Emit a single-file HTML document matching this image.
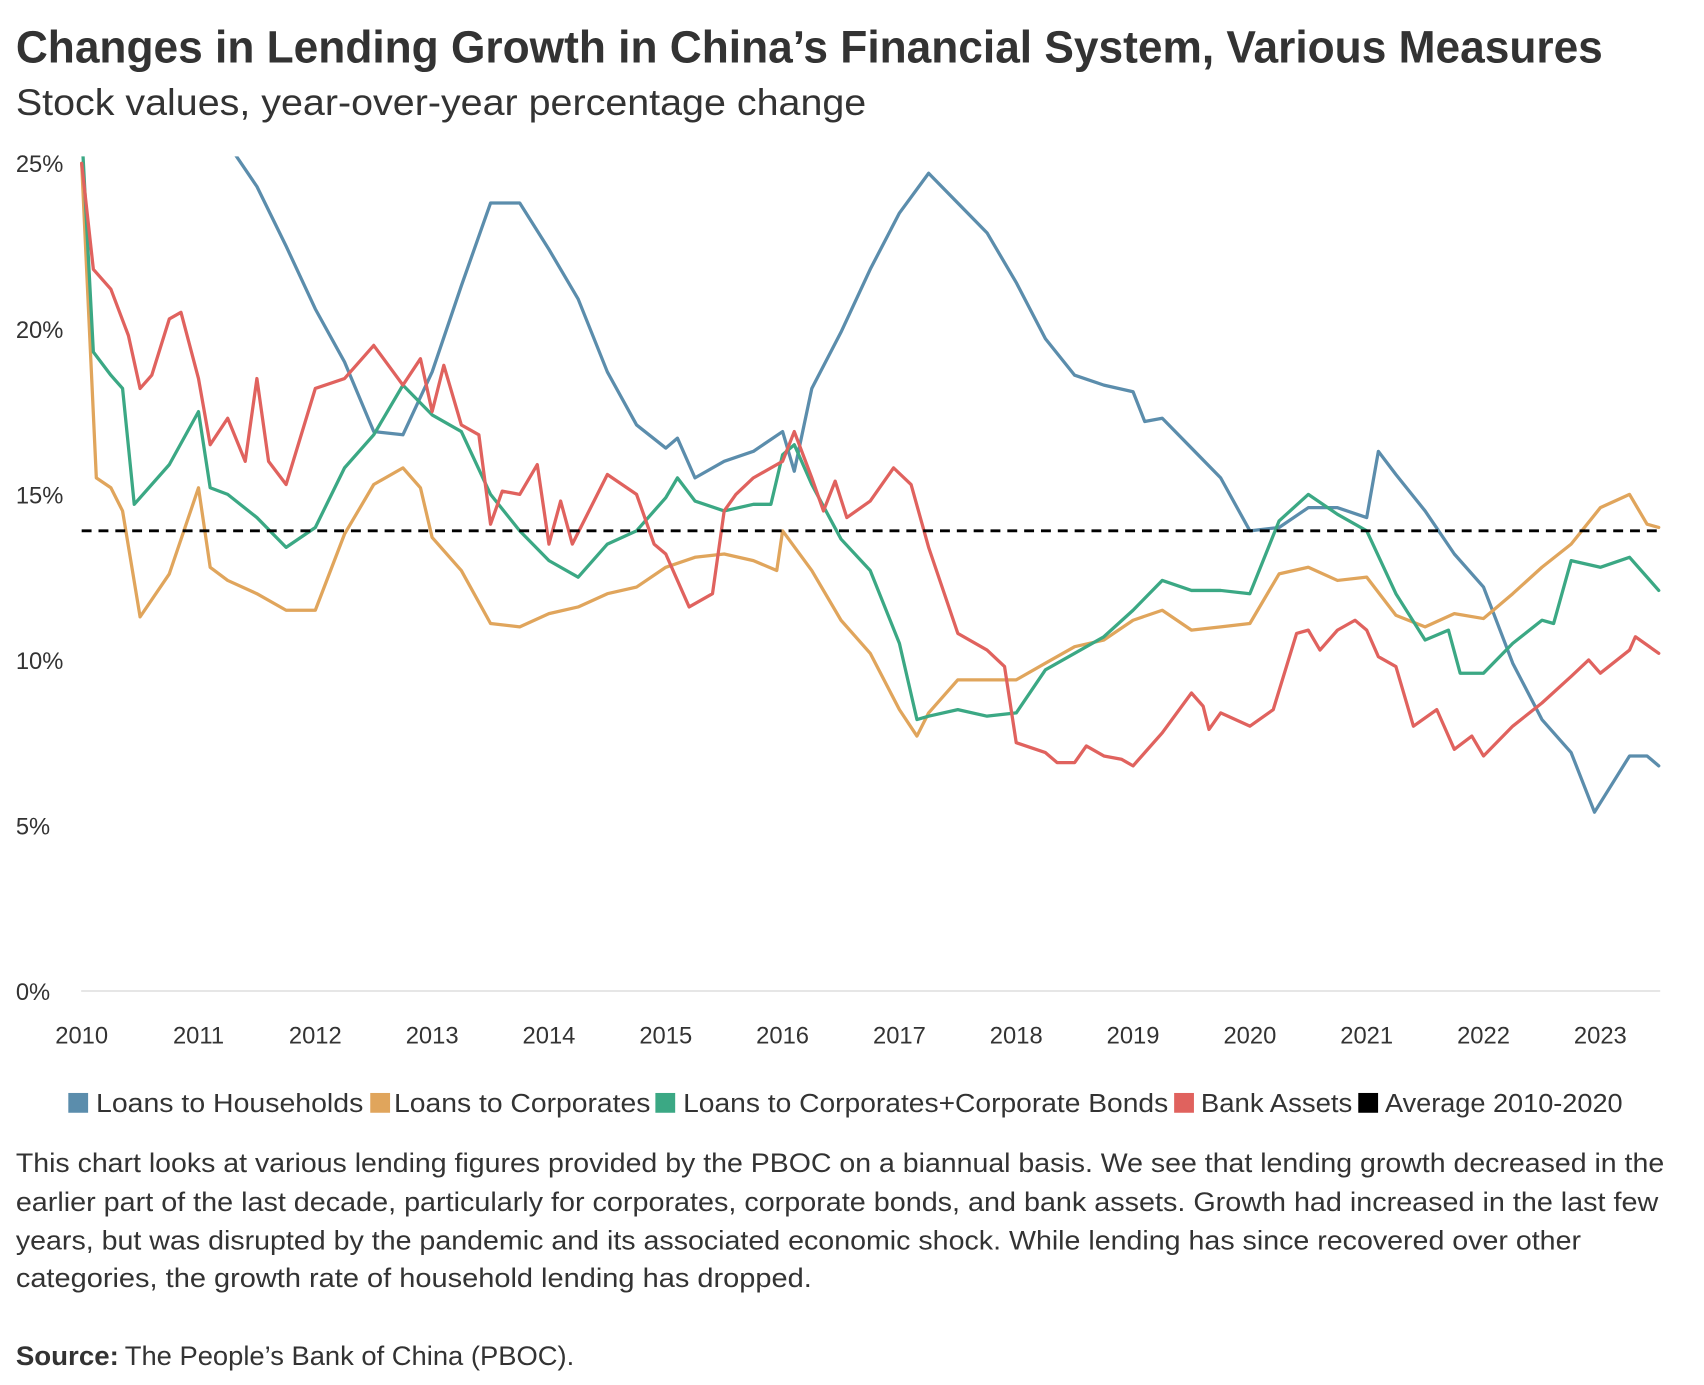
<!DOCTYPE html>
<html><head><meta charset="utf-8"><style>
html,body{margin:0;padding:0;background:#fff;}
svg{display:block;font-family:"Liberation Sans",sans-serif;}
</style></head><body>
<svg id="chart" width="1704" height="1385" viewBox="0 0 1704 1385" xmlns="http://www.w3.org/2000/svg">
<g transform="scale(0.99)">
<text x="16" y="63" font-size="46" font-weight="bold" fill="#333" textLength="1603" lengthAdjust="spacingAndGlyphs">Changes in Lending Growth in China’s Financial System, Various Measures</text>
<text x="16" y="116" font-size="37" fill="#333" textLength="859" lengthAdjust="spacingAndGlyphs">Stock values, year-over-year percentage change</text>
<defs><clipPath id="pc"><rect x="80" y="158" width="1600" height="850"/></clipPath></defs>
<g id="grid"></g>
<g id="yaxis"></g>
<g id="xaxis"></g>
<g id="series" clip-path="url(#pc)"></g>
<g font-size="26" fill="#333">
<rect x="69" y="1104" width="20" height="20" fill="#5b8dac"/>
<text x="97" y="1123" textLength="270" lengthAdjust="spacingAndGlyphs">Loans to Households</text>
<rect x="374" y="1104" width="20" height="20" fill="#e0a55c"/>
<text x="398" y="1123" textLength="259" lengthAdjust="spacingAndGlyphs">Loans to Corporates</text>
<rect x="662" y="1104" width="20" height="20" fill="#3ba884"/>
<text x="690" y="1123" textLength="490" lengthAdjust="spacingAndGlyphs">Loans to Corporates+Corporate Bonds</text>
<rect x="1186" y="1104" width="20" height="20" fill="#e0625e"/>
<text x="1213" y="1123" textLength="153" lengthAdjust="spacingAndGlyphs">Bank Assets</text>
<rect x="1372" y="1104" width="20" height="20" fill="#000"/>
<text x="1399" y="1123" textLength="240" lengthAdjust="spacingAndGlyphs">Average 2010-2020</text>
</g>
<g font-size="27" fill="#333">
<text x="16" y="1184" textLength="1665" lengthAdjust="spacingAndGlyphs">This chart looks at various lending figures provided by the PBOC on a biannual basis. We see that lending growth decreased in the</text>
<text x="16" y="1223" textLength="1659" lengthAdjust="spacingAndGlyphs">earlier part of the last decade, particularly for corporates, corporate bonds, and bank assets. Growth had increased in the last few</text>
<text x="16" y="1262" textLength="1581" lengthAdjust="spacingAndGlyphs">years, but was disrupted by the pandemic and its associated economic shock. While lending has since recovered over other</text>
<text x="16" y="1300" textLength="804" lengthAdjust="spacingAndGlyphs">categories, the growth rate of household lending has dropped.</text>
</g>
<text x="16" y="1379" font-size="27" fill="#333"><tspan font-weight="bold" textLength="104" lengthAdjust="spacingAndGlyphs">Source:</tspan><tspan x="126" textLength="454" lengthAdjust="spacingAndGlyphs">The People’s Bank of China (PBOC).</tspan></text>
</g>
</svg>
<script>
const yTicks=[0,5,10,15,20,25];
const yTickLabels=["0%","5%","10%","15%","20%","25%"];
const xTicks=[2010,2011,2012,2013,2014,2015,2016,2017,2018,2019,2020,2021,2022,2023];
const averageValue=13.9;
const hhT=[0,0.25,0.5,0.75,1,1.25,1.5,1.75,2,2.25,2.5,2.75,3,3.25,3.5,3.75,4,4.25,4.5,4.75,5,5.1,5.25,5.5,5.75,6,6.1,6.25,6.5,6.75,7,7.25,7.5,7.75,8,8.25,8.5,8.75,9,9.1,9.25,9.5,9.75,10,10.25,10.5,10.75,11,11.1,11.25,11.5,11.75,12,12.25,12.5,12.75,12.95,13.25,13.4,13.5];
const hhV=[34,32,30,28.5,27,25.6,24.3,22.5,20.6,19,16.9,16.8,18.7,21.3,23.8,23.8,22.4,20.9,18.7,17.1,16.4,16.7,15.5,16,16.3,16.9,15.7,18.2,19.9,21.8,23.5,24.7,23.8,22.9,21.4,19.7,18.6,18.3,18.1,17.2,17.3,16.4,15.5,13.9,14,14.6,14.6,14.3,16.3,15.6,14.5,13.2,12.2,9.9,8.2,7.2,5.4,7.1,7.1,6.8];
const coT=[0,0.125,0.25,0.35,0.5,0.75,1,1.1,1.25,1.5,1.75,2,2.25,2.5,2.75,2.9,3,3.25,3.5,3.75,4,4.25,4.5,4.75,5,5.25,5.5,5.75,5.95,6,6.25,6.5,6.75,7,7.15,7.25,7.5,7.75,8,8.25,8.5,8.75,9,9.25,9.5,9.75,10,10.25,10.5,10.75,11,11.25,11.5,11.75,12,12.25,12.5,12.75,13,13.25,13.4,13.5];
const coV=[25,15.5,15.2,14.5,11.3,12.6,15.2,12.8,12.4,12,11.5,11.5,13.8,15.3,15.8,15.2,13.7,12.7,11.1,11,11.4,11.6,12,12.2,12.8,13.1,13.2,13,12.7,13.9,12.7,11.2,10.2,8.5,7.7,8.4,9.4,9.4,9.4,9.9,10.4,10.6,11.2,11.5,10.9,11,11.1,12.6,12.8,12.4,12.5,11.35,11,11.4,11.25,12,12.8,13.5,14.6,15,14.1,14];
const cbT=[0,0.1,0.25,0.35,0.45,0.75,1,1.1,1.25,1.5,1.75,2,2.25,2.5,2.75,3,3.25,3.5,3.75,4,4.25,4.5,4.75,5,5.1,5.25,5.5,5.75,5.9,6,6.1,6.25,6.5,6.75,7,7.15,7.25,7.5,7.75,8,8.25,8.5,8.75,9,9.25,9.5,9.75,10,10.25,10.5,10.75,11,11.25,11.5,11.7,11.8,12,12.25,12.5,12.6,12.75,13,13.25,13.5];
const cbV=[26,19.3,18.6,18.2,14.7,15.9,17.5,15.2,15,14.3,13.4,14,15.8,16.8,18.3,17.4,16.9,15,13.9,13,12.5,13.5,13.9,14.9,15.5,14.8,14.5,14.7,14.7,16.2,16.5,15.3,13.65,12.7,10.5,8.2,8.3,8.5,8.3,8.4,9.7,10.2,10.7,11.5,12.4,12.1,12.1,12,14.2,15,14.4,13.9,12,10.6,10.9,9.6,9.6,10.5,11.2,11.1,13,12.8,13.1,12.1];
const baT=[0,0.1,0.25,0.4,0.5,0.6,0.75,0.85,1,1.1,1.25,1.4,1.5,1.6,1.75,2,2.25,2.5,2.75,2.9,3,3.1,3.25,3.4,3.5,3.6,3.75,3.9,4,4.1,4.2,4.5,4.75,4.9,5,5.2,5.4,5.5,5.6,5.75,6,6.1,6.25,6.35,6.45,6.55,6.75,6.95,7.1,7.25,7.5,7.75,7.9,8,8.25,8.35,8.5,8.6,8.75,8.9,9,9.25,9.5,9.6,9.65,9.75,10,10.2,10.4,10.5,10.6,10.75,10.9,11,11.1,11.25,11.4,11.6,11.75,11.9,12,12.25,12.5,12.75,12.9,13,13.25,13.3,13.5];
const baV=[25,21.8,21.2,19.8,18.2,18.6,20.3,20.5,18.5,16.5,17.3,16,18.5,16,15.3,18.2,18.5,19.5,18.3,19.1,17.5,18.9,17.1,16.8,14.1,15.1,15,15.9,13.5,14.8,13.5,15.6,15,13.5,13.2,11.6,12,14.5,15,15.5,16,16.9,15.5,14.5,15.4,14.3,14.8,15.8,15.3,13.4,10.8,10.3,9.8,7.5,7.2,6.9,6.9,7.4,7.1,7,6.8,7.8,9,8.6,7.9,8.4,8,8.5,10.8,10.9,10.3,10.9,11.2,10.9,10.1,9.8,8,8.5,7.3,7.7,7.1,8,8.7,9.5,10,9.6,10.3,10.7,10.2];
const NS="http://www.w3.org/2000/svg";
function xs(yr){return 82.5+(yr-2010)*118.0;}
function xt(t){return xs(2010+t);}
function ys(v){return 1001-v*33.44;}
function mk(tag,attrs,parent){const e=document.createElementNS(NS,tag);for(const k in attrs)e.setAttribute(k,attrs[k]);parent.appendChild(e);return e;}
const grid=document.getElementById('grid'),yax=document.getElementById('yaxis'),xax=document.getElementById('xaxis'),ser=document.getElementById('series');
const gl=mk('line',{x1:82,x2:1677,y1:ys(0),y2:ys(0),stroke:'#e6e6e6','stroke-width':2},grid);


yTicks.forEach((v,i)=>{const t=mk('text',{x:16,y:ys(v)+9,'font-size':24,fill:'#333'},yax);t.textContent=yTickLabels[i];

});
xTicks.forEach(yr=>{const t=mk('text',{x:xs(yr),y:1054,'font-size':24,fill:'#333','text-anchor':'middle'},xax);t.textContent=String(yr);

});
function line(T,V,color,name){const d=T.map((t,i)=>(i?'L':'M')+xt(t).toFixed(1)+','+ys(V[i]).toFixed(1)).join(' ');
const p=mk('path',{d:d,fill:'none',stroke:color,'stroke-width':3.3,'stroke-linejoin':'round','stroke-linecap':'round'},ser);

}
line(hhT,hhV,'#5b8dac','line-households');
line(coT,coV,'#e0a55c','line-corporates');
line(cbT,cbV,'#3ba884','line-corp-bonds');
line(baT,baV,'#e0625e','line-bank-assets');
const av=mk('line',{x1:xs(2010),x2:1677,y1:ys(averageValue),y2:ys(averageValue),stroke:'#000','stroke-width':3,'stroke-dasharray':'10,7'},ser);


</script>
</body></html>
